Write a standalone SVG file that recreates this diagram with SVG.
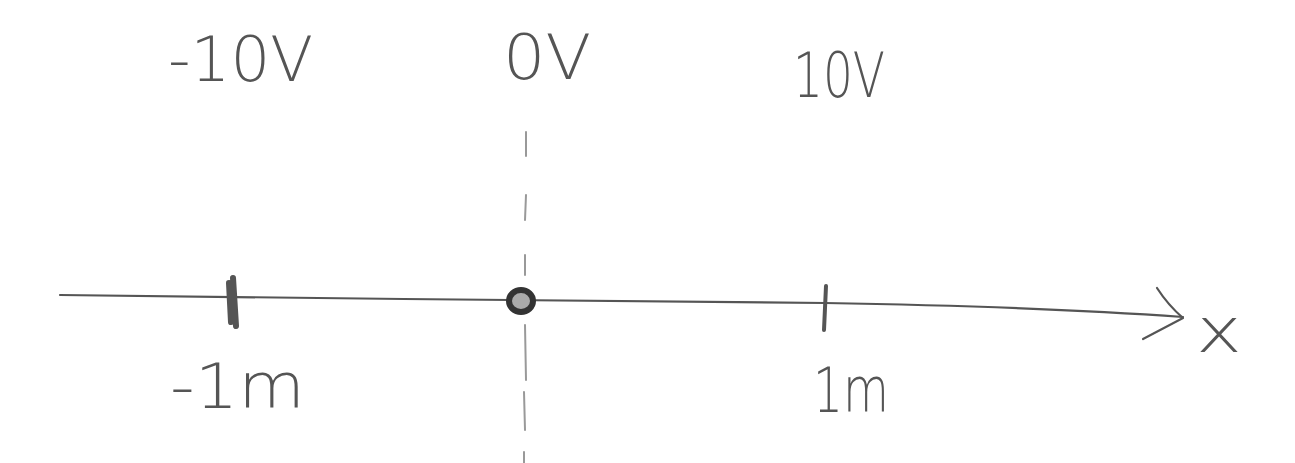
<svg xmlns="http://www.w3.org/2000/svg" width="1295" height="463" viewBox="0 0 1295 463">
<style>
.lbl{font-family:"DejaVu Sans","Liberation Sans",Arial,sans-serif;font-weight:200;fill:#555;font-size:62px}
.ink{fill:none;stroke:#555;stroke-linecap:round;stroke-linejoin:round}
.dash{fill:none;stroke:#999;stroke-width:2;stroke-linecap:round}
</style>
<rect width="1295" height="463" fill="#ffffff"/>
<g id="guide">
<path class="dash" d="M526 132 L526 156 M526 195 L525 220 M525 255 L525 275 M525 325 L526 380 M524 392 L525 430 M524 452 L524 463"/>
</g>
<g id="connectors">
<path class="ink" stroke-width="2.2" d="M60 295 C300 299 600 300 825 303 C1000 306 1100 311 1183 317"/>
<path class="ink" stroke-width="2.2" d="M1157 288 Q1168 305 1183 318 L1143 339"/>
</g>
<g id="tick-neg1">
<path class="ink" stroke="#333" stroke-width="6" d="M229 283 L231 322 M233 278 L236 326"/>
</g>
<g id="origin">
<ellipse cx="521" cy="301" rx="12" ry="11" fill="#aaa" stroke="#333" stroke-width="6"/>
</g>
<g id="tick-pos1">
<path class="ink" stroke="#333" stroke-width="4" d="M826 286 L824 330"/>
</g>
<g id="labels">
<text class="lbl" x="168" y="81" textLength="145" lengthAdjust="spacingAndGlyphs">-10V</text>
<text class="lbl" x="503" y="79" textLength="88" lengthAdjust="spacingAndGlyphs">0V</text>
<text class="lbl" x="793" y="97" textLength="92" lengthAdjust="spacingAndGlyphs">10V</text>
<text class="lbl" x="170" y="408" textLength="135" lengthAdjust="spacingAndGlyphs">-1m</text>
<text class="lbl" x="813" y="412" textLength="76" lengthAdjust="spacingAndGlyphs">1m</text>
<text class="lbl" x="1196" y="352" font-size="56" textLength="46" lengthAdjust="spacingAndGlyphs">x</text>
</g>
</svg>
